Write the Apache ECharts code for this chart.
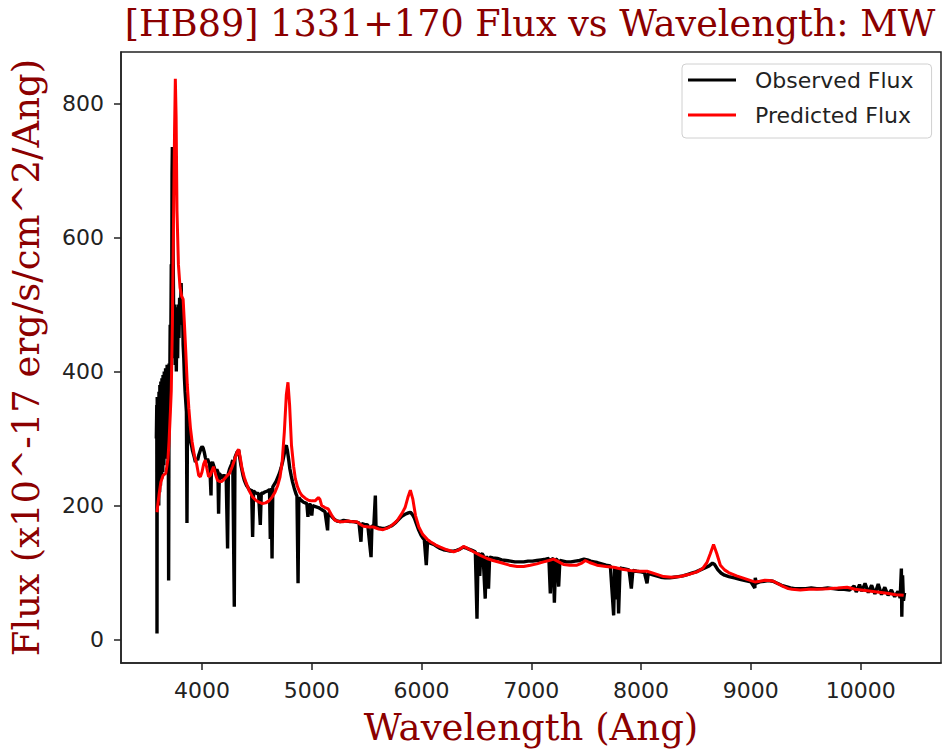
<!DOCTYPE html>
<html>
<head>
<meta charset="utf-8">
<script src="https://cdn.jsdelivr.net/npm/echarts@6/dist/echarts.min.js"></script>
<style>html,body{margin:0;padding:0;background:#fff;}#c{width:942px;height:750px;}</style>
</head>
<body>
<div id="c"></div>
<script>
const titleText = '[HB89] 1331+170 Flux vs Wavelength: MW';
const xLabel = 'Wavelength (Ang)';
const yLabel = 'Flux (x10^-17 erg/s/cm^2/Ang)';
const seriesNames = ['Observed Flux', 'Predicted Flux'];
const xTicks = [4000, 5000, 6000, 7000, 8000, 9000, 10000];
const yTicks = [0, 200, 400, 600, 800];

const obsWave = [3584,3588,3590,3592,3594,3596,3598,3600,3602,3604,3606,3608,3610,3612,3614,3616,3618,3620,3622,3625,3628,3630,3633,3635,3638,3640,3643,3645,3648,3650,3653,3656,3659,3662,3665,3668,3671,3675,3678,3682,3686,3690,3693,3696,3700,3705,3710,3715,3720,3724,3727,3730,3734,3738,3742,3746,3750,3755,3760,3766,3772,3778,3784,3790,3796,3802,3810,3816,3822,3828,3834,3840,3846,3852,3858,3863,3868,3874,3880,3888,3896,3904,3912,3920,3930,3940,3950,3960,3970,3980,3990,4000,4010,4020,4030,4040,4050,4060,4070,4082,4086,4095,4105,4115,4125,4135,4145,4151,4158,4170,4180,4190,4200,4210,4220,4233,4240,4250,4260,4270,4280,4294,4300,4310,4320,4334,4345,4355,4365,4375,4385,4395,4405,4415,4425,4440,4452,4461,4470,4480,4490,4500,4515,4531,4540,4555,4570,4585,4600,4615,4622,4630,4638,4645,4660,4675,4690,4705,4720,4735,4750,4760,4768,4778,4790,4800,4812,4825,4840,4855,4865,4875,4882,4895,4910,4925,4940,4955,4965,4975,4990,5000,5008,5020,5040,5060,5080,5100,5120,5144,5150,5170,5190,5210,5230,5260,5290,5320,5350,5380,5410,5430,5448,5455,5480,5510,5540,5548,5565,5579,5585,5610,5640,5670,5700,5730,5760,5790,5820,5850,5880,5898,5915,5935,5955,5975,5995,6010,6025,6043,6055,6080,6110,6140,6170,6200,6230,6260,6290,6320,6350,6380,6400,6430,6460,6490,6505,6515,6530,6540,6560,6580,6590,6610,6620,6650,6690,6730,6770,6810,6850,6890,6930,6970,7010,7050,7090,7130,7160,7173,7185,7200,7210,7222,7236,7249,7260,7290,7320,7360,7400,7440,7480,7510,7540,7570,7600,7640,7680,7720,7750,7760,7775,7785,7795,7808,7830,7860,7890,7911,7925,7960,8000,8030,8054,8065,8100,8140,8180,8220,8260,8300,8340,8380,8420,8460,8500,8540,8580,8620,8650,8670,8700,8730,8760,8800,8850,8900,8950,9000,9036,9040,9050,9080,9120,9160,9200,9240,9280,9320,9360,9400,9450,9500,9550,9600,9650,9700,9750,9800,9850,9900,9940,9960,9990,10010,10040,10070,10100,10130,10160,10190,10220,10250,10280,10310,10340,10360,10371,10375,10382,10390,10400];
const obsFlux = [300,350,9,362,220,330,210,340,230,355,200,370,240,360,220,380,250,372,230,385,260,378,240,390,270,382,250,395,280,388,260,400,290,392,270,405,300,398,280,410,320,402,300,88,412,350,470,420,560,500,696,735,620,560,470,420,500,410,480,400,496,420,500,450,510,470,532,480,500,440,420,390,370,355,340,174,335,320,310,300,295,290,283,278,272,265,270,268,275,280,285,288,286,280,272,266,270,265,262,215,262,265,260,255,250,254,250,188,248,245,240,243,246,242,244,136,248,254,258,262,268,49,272,276,280,283,270,260,252,244,238,234,230,228,225,222,224,153,222,220,219,218,218,171,219,218,220,221,222,224,150,226,121,228,232,236,242,248,256,266,278,287,290,282,268,255,245,235,226,218,214,84,212,209,207,205,204,203,183,202,201,185,200,199,198,197,195,193,191,163,189,186,182,179,177,176,178,177,176,176,175,174,146,173,172,171,123,170,169,215,168,167,166,166,168,170,174,179,184,187,189,190,187,181,172,163,156,152,149,111,147,144,142,139,136,134,133,132,132,133,135,138,137,135,133,131,31,130,95,128,127,61,125,76,123,122,121,119,118,117,116,116,116,117,117,118,119,120,121,69,121,120,55,120,119,79,118,117,116,116,117,118,120,119,117,116,115,113,111,110,36,109,60,108,39,107,106,105,104,76,103,102,101,100,84,99,97,95,93,92,92,93,94,95,97,99,101,104,107,110,114,112,104,99,96,94,92,90,88,86,77,92,84,86,87,88,87,84,81,79,77,76,76,76,77,76,76,77,76,75,75,74,80,71,82,72,84,70,81,68,83,67,78,66,74,64,72,62,106,34,96,58,70];

const predWave = [3590,3600,3610,3625,3645,3670,3690,3700,3712,3720,3730,3740,3750,3757,3764,3772,3785,3800,3815,3828,3840,3852,3866,3880,3895,3910,3930,3950,3970,3985,4000,4015,4030,4045,4060,4075,4090,4105,4120,4140,4160,4180,4200,4225,4250,4275,4300,4320,4334,4348,4365,4385,4400,4430,4460,4490,4520,4550,4580,4610,4640,4665,4690,4710,4730,4750,4768,4783,4798,4815,4835,4850,4870,4890,4910,4940,4970,5000,5030,5060,5075,5090,5120,5150,5180,5210,5250,5290,5330,5370,5410,5440,5470,5520,5560,5610,5650,5700,5740,5780,5820,5850,5875,5898,5920,5945,5975,6010,6050,6080,6130,6171,6230,6292,6340,6383,6420,6474,6530,6596,6650,6718,6800,6870,6930,6991,7050,7112,7160,7203,7250,7294,7350,7416,7460,7492,7530,7598,7680,7750,7830,7902,7980,8054,8130,8205,8280,8357,8430,8509,8560,8600,8630,8660,8690,8722,8760,8797,8870,8945,9000,9036,9080,9127,9170,9207,9250,9298,9340,9375,9450,9530,9603,9650,9700,9790,9876,9950,10058,10150,10240,10320,10392];
const predFlux = [190,205,218,235,245,248,270,297,340,372,470,620,760,837,780,640,560,525,512,508,470,430,380,345,315,295,275,263,245,243,250,262,268,255,243,245,252,258,248,238,236,236,239,244,248,258,270,280,284,272,255,242,235,222,213,208,205,203,204,207,213,220,230,242,265,310,365,384,350,290,258,240,228,220,215,211,208,207,207,212,209,200,197,195,186,178,176,176,177,176,176,172,169,168,168,165,164,167,172,178,188,197,212,223,210,185,168,157,150,146,141,138,134,131,134,139,136,131,126,121,118,115,111,109,109,111,113,116,118,120,116,112,111,111,114,118,115,111,109,108,105,103,102,102,98,94,93,94,97,101,106,115,128,142,128,111,104,100,95,91,88,86,87,88.5,88,87,83,79,76,75,74,75,75,75.5,76,77,78,75,73,71,69,67,66];

const obsData = obsWave.map((w, i) => [w, obsFlux[i]]);
const predData = predWave.map((w, i) => [w, predFlux[i]]);

const chart = echarts.init(document.getElementById('c'), null, {renderer: 'svg'});
const tickFont = {fontFamily: 'DejaVu Sans', fontSize: 22, color: '#222', formatter: v => String(v)};
const labelColor = '#8B0000';
chart.setOption({
  animation: false,
  backgroundColor: '#fff',
  title: {
    text: titleText, left: 525, top: 0, textAlign: 'center',
    textStyle: {fontFamily: 'DejaVu Serif', fontWeight: 'normal', fontSize: 36.6, color: labelColor}
  },
  legend: {
    data: seriesNames, orient: 'vertical', left: 682, top: 64,
    padding: [5, 18, 12, 6], itemGap: 13, itemWidth: 48, itemHeight: 3, icon: 'rect',
    borderColor: '#d0d0d0', borderWidth: 1, borderRadius: 4, backgroundColor: 'rgba(255,255,255,0.8)',
    textStyle: {fontFamily: 'DejaVu Sans', fontSize: 22, lineHeight: 22, color: '#222', padding: [0, 0, 0, 14]}
  },
  grid: {left: 121, right: 1, top: 52, bottom: 87, show: true, borderColor: '#222', borderWidth: 1.5,
         containLabel: false, outerBoundsMode: 'none'},
  xAxis: {
    type: 'value', min: 3262, max: 10732,
    name: xLabel, nameLocation: 'middle', nameGap: 46,
    nameTextStyle: {fontFamily: 'DejaVu Serif', fontSize: 37, color: labelColor},
    axisLine: {show: true, onZero: false, lineStyle: {color: '#222', width: 1.5}},
    axisTick: {show: true, length: 7, lineStyle: {color: '#222', width: 1.5}, customValues: xTicks},
    axisLabel: Object.assign({margin: 16, customValues: xTicks}, tickFont),
    splitLine: {show: false}
  },
  yAxis: {
    type: 'value', min: -35, max: 877,
    name: yLabel, nameLocation: 'middle', nameGap: 76,
    nameTextStyle: {fontFamily: 'DejaVu Serif', fontSize: 37, color: labelColor},
    axisLine: {show: true, onZero: false, lineStyle: {color: '#222', width: 1.5}},
    axisTick: {show: true, length: 7, lineStyle: {color: '#222', width: 1.5}, customValues: yTicks},
    axisLabel: Object.assign({margin: 17, customValues: yTicks}, tickFont),
    splitLine: {show: false}
  },
  series: [
    {name: seriesNames[0], type: 'line', data: obsData, symbol: 'none', color: '#000',
     lineStyle: {color: '#000', width: 3.4}, z: 2},
    {name: seriesNames[1], type: 'line', data: predData, symbol: 'none', color: '#ff0000',
     lineStyle: {color: '#ff0000', width: 3}, z: 3}
  ]
});
</script>
</body>
</html>
